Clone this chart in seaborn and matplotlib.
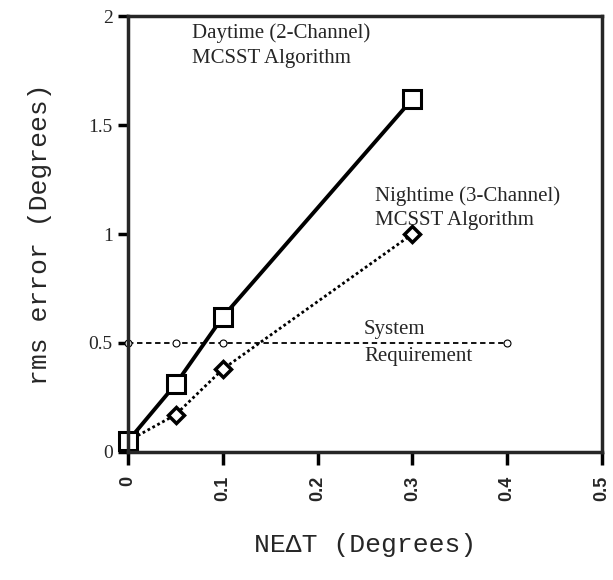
import matplotlib
matplotlib.use("Agg")
import matplotlib.pyplot as plt
import seaborn as sns
import pandas as pd

# data
netd_day = [0.0, 0.05, 0.1, 0.3]
rms_day = [0.05, 0.31, 0.62, 1.62]
netd_night = [0.0, 0.05, 0.1, 0.3]
rms_night = [0.05, 0.17, 0.38, 1.0]
netd_req = [0.0, 0.05, 0.1, 0.4]
rms_req = [0.5, 0.5, 0.5, 0.5]
x_ticks = [0, 0.1, 0.2, 0.3, 0.4, 0.5]
y_ticks = [0, 0.5, 1, 1.5, 2]
y_tick_labels = ["0", "0.5", "1", "1.5", "2"]

sns.set_style("ticks")
plt.rcParams['font.family'] = ['Liberation Serif', 'DejaVu Serif']

fig = plt.figure(figsize=(6.13, 5.8), dpi=100)
ax = fig.add_axes([0.209, 0.221, 0.773, 0.751])

day = pd.DataFrame({"x": netd_day, "y": rms_day})
night = pd.DataFrame({"x": netd_night, "y": rms_night})
req = pd.DataFrame({"x": netd_req, "y": rms_req})

sns.lineplot(data=req, x="x", y="y", ax=ax, color="black", lw=1.3,
             linestyle=(0, (3, 2)), marker="o", markersize=5,
             markerfacecolor="white", markeredgecolor="black",
             markeredgewidth=0.8, clip_on=False)
sns.lineplot(data=night, x="x", y="y", ax=ax, color="black", lw=2,
             linestyle=(0, (1, 1)), marker="D", markersize=8,
             markerfacecolor="white", markeredgecolor="black",
             markeredgewidth=2.5, clip_on=False)
sns.lineplot(data=day, x="x", y="y", ax=ax, color="black", lw=2.8,
             marker="s", markersize=13, markerfacecolor="white",
             markeredgecolor="black", markeredgewidth=2.2, clip_on=False)

ax.set_xlim(0, 0.5)
ax.set_ylim(0, 2)
ax.set_xticks(x_ticks)
ax.set_xticklabels([str(t) for t in x_ticks], rotation=90,
                   family="Liberation Sans", fontweight="bold", fontsize=13)
ax.set_yticks(y_ticks)
ax.set_yticklabels(y_tick_labels, fontsize=14)
ax.tick_params(axis="both", direction="out", width=2.5, color="black")
ax.tick_params(axis="x", length=9, pad=8)
ax.tick_params(axis="y", length=7, pad=4)

for sp in ax.spines.values():
    sp.set_linewidth(2.5)
    sp.set_visible(True)

ax.set_xlabel("NE\u0394T (Degrees)", family="Liberation Mono", fontsize=19, labelpad=23)
ax.set_ylabel("rms error (Degrees)", family="Liberation Mono", fontsize=19, labelpad=26)

ax.text(0.067, 1.97, "Daytime (2-Channel)\nMCSST Algorithm", fontsize=15,
        va="top", ha="left", linespacing=1.45)
ax.text(0.26, 1.22, "Nightime (3-Channel)\nMCSST Algorithm", fontsize=15,
        va="top", ha="left", linespacing=1.35)
ax.text(0.249, 0.52, "System", fontsize=15, va="bottom", ha="left")
ax.text(0.249, 0.48, "Requirement", fontsize=15, va="top", ha="left")

fig.savefig("out.png", dpi=100)
